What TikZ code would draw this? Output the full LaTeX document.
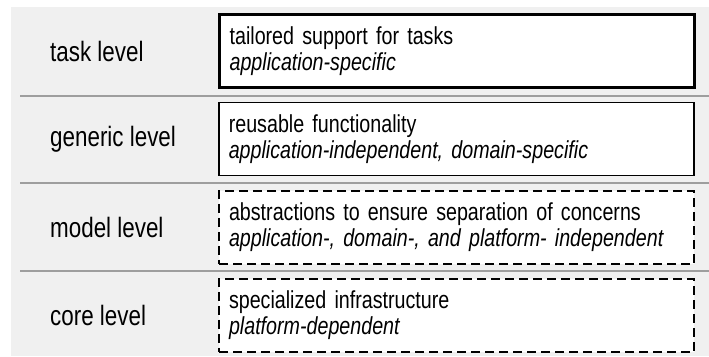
\documentclass[tikz,border=0pt]{standalone}
\usepackage{fontspec}
\setmainfont{Liberation Sans}[FakeStretch=0.8]

\begin{document}
\begin{tikzpicture}[x=1pt, y=-1pt,
  lvl/.style={anchor=west, inner sep=0pt, font=\fontsize{28}{30}\selectfont},
  tier/.style={draw, anchor=west, fill=white, minimum width=475pt, minimum height=73pt,
    text width=455pt, inner xsep=10pt, align=left, font=\fontsize{24.6}{26}\selectfont},
  solidtier/.style={tier, line width=1.6pt},
  thicktier/.style={tier, line width=3.2pt},
  dashtier/.style={tier, line width=2pt, dash pattern=on 9pt off 5pt},
  sep/.style={draw=black!38, line width=2pt}]
\useasboundingbox (0,0) rectangle (709,356);
\fill[black!6] (11,7) rectangle (709,356);

% dividers between the levels
\draw[sep] (20,96)  -- (709,96);
\draw[sep] (20,183) -- (709,183);
\draw[sep] (20,271) -- (709,271);

% level names
\node[lvl] (task)    at (50,51)  {task level};
\node[lvl] (generic) at (50,139) {generic level};
\node[lvl] (model)   at (50,227) {model level};
\node[lvl] (core)    at (50,315) {core level};

% what each level offers
\node[thicktier] (taskbox)    at (218,51)  {tailored support for tasks\\ \textit{application-specific}};
\node[solidtier] (genericbox) at (218,139) {reusable functionality\\ \textit{application-independent, domain-specific}};
\node[dashtier]  (modelbox)   at (218,227) {abstractions to ensure separation of concerns\\ \textit{application-, domain-, and platform- independent}};
\node[dashtier]  (corebox)    at (218,315) {specialized infrastructure\\ \textit{platform-dependent}};
\end{tikzpicture}
\end{document}
